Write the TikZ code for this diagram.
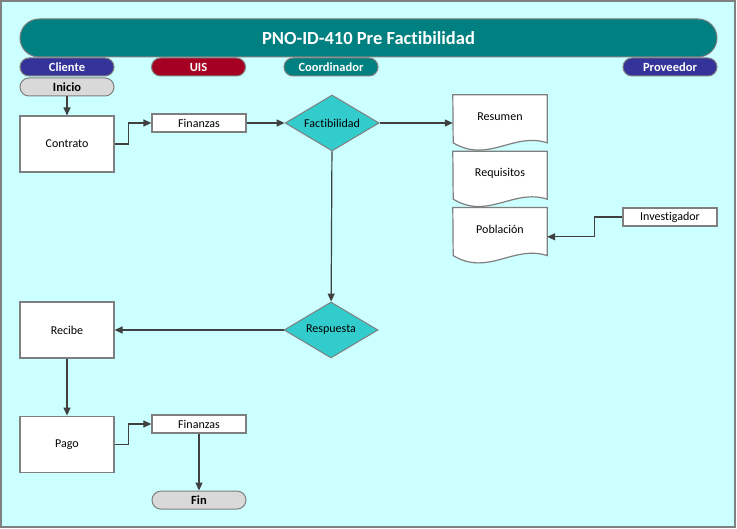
\documentclass[tikz,border=0pt]{standalone}
\usepackage{fontspec}
\setmainfont{Carlito}[Ligatures=NoCommon]
\usetikzlibrary{positioning,shapes.geometric,arrows.meta}

\definecolor{bgcyan}{HTML}{CCFFFF}
\definecolor{headblue}{HTML}{333399}
\definecolor{headred}{HTML}{A50021}
\definecolor{headteal}{HTML}{008080}
\definecolor{diafill}{HTML}{33CCCC}
\definecolor{endgray}{HTML}{D9D9D9}
\definecolor{linegray}{HTML}{404040}
\definecolor{boxgray}{HTML}{7F7F7F}

\pgfdeclarelayer{back}
\pgfsetlayers{back,main}

\begin{document}
\begin{tikzpicture}[x=1pt,y=-1pt,
    every node/.style={font=\fontsize{12}{14}\selectfont},
    boxnode/.style={rectangle, draw=boxgray, fill=white, line width=1.2pt, minimum width=94pt, minimum height=56pt, inner sep=0pt},
    smallbox/.style={boxnode, minimum height=18pt},
    pillnode/.style={rectangle, rounded corners=9pt, draw=boxgray, line width=1pt, minimum width=94pt, minimum height=18pt, inner sep=0pt, font=\fontsize{12.5}{14}\selectfont\bfseries},
    lanenode/.style={pillnode, fill=#1, text=white},
    endnode/.style={pillnode, fill=endgray},
    decnode/.style={diamond, shape aspect=1.68, draw=boxgray, fill=diafill, line width=1pt, minimum width=94pt, minimum height=56pt, inner sep=0pt},
    docnode/.style={rectangle, minimum width=94pt, minimum height=44pt, inner sep=0pt},
    docline/.style={draw=boxgray, fill=white, line width=1.2pt},
    flow/.style={draw=linegray, line width=1.2pt, -{Triangle[length=8pt,width=7pt]}}]

    \useasboundingbox (0,0) rectangle (737,529);
    \begin{pgfonlayer}{back}
        \draw[fill=bgcyan, draw=boxgray, line width=1.5pt] (1,1) rectangle (735,527);
    \end{pgfonlayer}

    % title and lanes
    \node[rectangle, rounded corners=19pt, fill=headteal, draw=boxgray, line width=1pt, minimum width=697pt, minimum height=38pt, text=white, font=\fontsize{18.5}{22}\selectfont\bfseries] (titulo) at (368.5,38) {PNO-ID-410 Pre Factibilidad};
    \node[lanenode=headblue] (cliente) at (67,67) {Cliente};
    \node[lanenode=headred] (uis) at (198.5,67) {UIS};
    \node[lanenode=headteal] (coordinador) at (331,67) {Coordinador};
    \node[lanenode=headblue] (proveedor) at (670,67) {Proveedor};

    % steps
    \node[endnode, below=1pt of cliente] (inicio) {Inicio};
    \node[boxnode, below=19pt of inicio] (contrato) {Contrato};
    \node[smallbox] (finanzas) at (199,123) {Finanzas};
    \node[decnode, right=38pt of finanzas] (factibilidad) {Factibilidad};
    \node[docnode] (resumen) at (500,117) {Resumen};
    \node[docnode, below=12pt of resumen] (requisitos) {Requisitos};
    \node[docnode, below=12pt of requisitos] (poblacion) {Población};
    \node[smallbox] (investigador) at (670,217) {Investigador};
    \node[decnode] (respuesta) at (331,330) {Respuesta};
    \node[boxnode] (recibe) at (67,330) {Recibe};
    \node[boxnode, below=57pt of recibe] (pago) {Pago};
    \node[smallbox] (finanzasdos) at (199,424) {Finanzas};
    \node[endnode, below=57pt of finanzasdos] (fin) {Fin};

    % document outlines
    \begin{pgfonlayer}{back}
        \foreach \d in {resumen,requisitos,poblacion}
            \draw[docline] (\d.north west) -- (\d.north east) -- ++(0,48)
                .. controls +(-34,-11) and +(35,21) .. ++(-94,0) -- cycle;
    \end{pgfonlayer}

    % connectors
    \coordinate (poblacionin) at ([yshift=-7pt]poblacion.east);
    \draw[flow] (inicio) -- (contrato);
    \draw[flow] (contrato.east) -- ++(14,0) |- (finanzas.west);
    \draw[flow] (finanzas) -- (factibilidad);
    \draw[flow] (factibilidad.east) -- (factibilidad.east -| resumen.west);
    \draw[flow] (factibilidad) -- (respuesta);
    \draw[flow] (respuesta) -- (recibe);
    \draw[flow] (recibe) -- (pago);
    \draw[flow] (pago.east) -- ++(14,0) |- (finanzasdos.west);
    \draw[flow] (finanzasdos) -- (fin);
    \draw[flow] (investigador.west) -- ++(-28,0) |- (poblacionin);

\end{tikzpicture}
\end{document}
